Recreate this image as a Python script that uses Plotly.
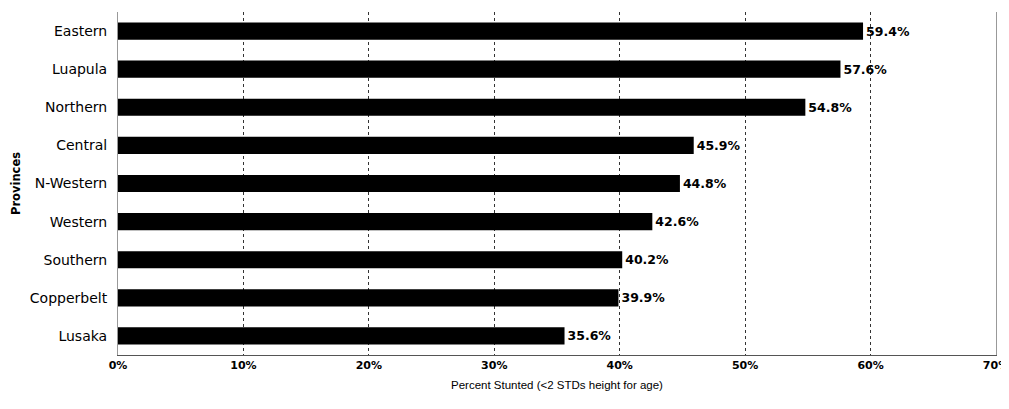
import plotly.graph_objects as go

provinces = ["Eastern", "Luapula", "Northern", "Central", "N-Western",
             "Western", "Southern", "Copperbelt", "Lusaka"]
stunted = [59.4, 57.6, 54.8, 45.9, 44.8, 42.6, 40.2, 39.9, 35.6]
tick_vals = [0, 10, 20, 30, 40, 50, 60, 70]
tick_text = ["0%", "10%", "20%", "30%", "40%", "50%", "60%", "70%"]

fig = go.Figure(go.Bar(
    x=stunted,
    y=provinces,
    orientation="h",
    marker=dict(color="black", line=dict(width=0)),
    width=0.45,
    text=[f"{v:.1f}%" for v in stunted],
    textposition="outside",
    cliponaxis=False,
    textfont=dict(family="DejaVu Sans", size=12.5, color="black", weight="bold"),
))

# page body has an 8px default margin, so the figure is sized/placed to compensate
fig.update_layout(
    width=1009, height=393,
    margin=dict(l=110, r=21, t=4, b=46),
    paper_bgcolor="white", plot_bgcolor="white",
    showlegend=False,
    font=dict(family="DejaVu Sans", color="black"),
)
fig.update_xaxes(
    range=[0, 70], tickvals=tick_vals, ticktext=tick_text,
    showgrid=True, gridcolor="#333", griddash="dot", gridwidth=1,
    zeroline=False, showline=True, linecolor="#555", linewidth=1,
    tickfont=dict(family="DejaVu Sans", size=11, weight="bold"), ticks="", ticklen=0,
    ticklabeloverflow="allow",
    title=dict(text="Percent Stunted (<2 STDs height for age)",
               font=dict(family="Arial, Liberation Sans", size=11.5), standoff=9),
    automargin=False,
)
fig.update_yaxes(
    categoryorder="array", categoryarray=provinces[::-1],
    range=[-0.5, 8.5],
    showgrid=False, showline=True, mirror=True, linecolor="#999", linewidth=1,
    tickfont=dict(family="DejaVu Sans", size=14), ticks="", ticklabelstandoff=7,
    title=dict(text="<b>Provinces</b>", font=dict(family="DejaVu Sans", size=11.5), standoff=6),
    automargin=False,
)

fig.write_html("out.html")
